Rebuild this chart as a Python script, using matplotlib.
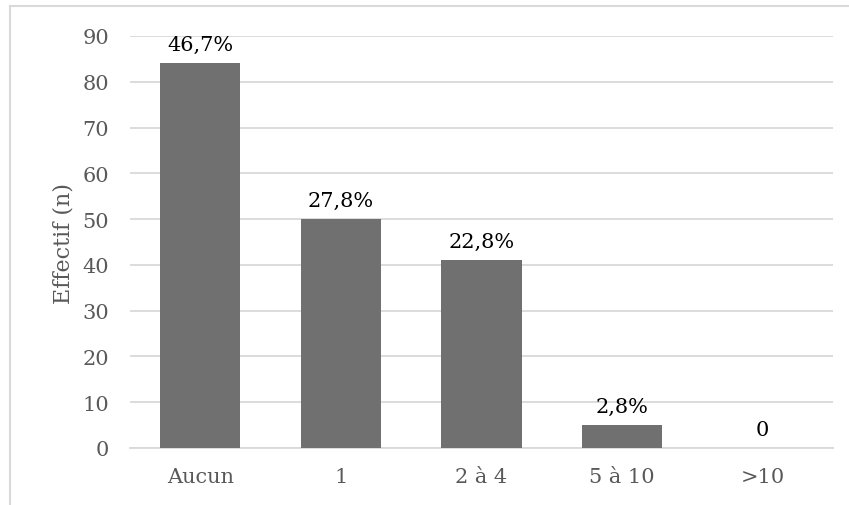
import matplotlib.pyplot as plt
import numpy as np

categories = ['Aucun', '1', '2 à 4', '5 à 10', '>10']
values = [84, 50, 41, 5, 0]
labels = ['46,7%', '27,8%', '22,8%', '2,8%', '0']

plt.rcParams['font.family'] = ['DejaVu Serif']

fig = plt.figure(figsize=(8.49, 5.06), dpi=100)
ax = fig.add_axes([130 / 849, 57 / 506, 703 / 849, 412 / 506])

# outer chart border (only left/top visible in the crop)
fig.add_artist(plt.Line2D([9.5 / 849, 9.5 / 849], [0, 1 - 7 / 506], color='#d9d9d9', lw=1.5))
fig.add_artist(plt.Line2D([9.5 / 849, 1], [1 - 7 / 506, 1 - 7 / 506], color='#d9d9d9', lw=1.5))

x = np.arange(len(categories))
ax.bar(x, values, width=0.57, color='#707070', zorder=3)

for xi, v, lab in zip(x, values, labels):
    ax.text(xi, v + 2, lab, ha='center', va='bottom', fontsize=15, color='black')

ax.set_xlim(-0.5, len(categories) - 0.5)
ax.set_ylim(0, 90)
ax.set_yticks(range(0, 91, 10))
ax.set_xticks(x)
ax.set_xticklabels(categories)
ax.yaxis.grid(True, color='#d9d9d9', lw=1.3, zorder=0)
ax.tick_params(axis='both', length=0, labelsize=15, labelcolor='#595959')
ax.tick_params(axis='x', pad=14)
ax.tick_params(axis='y', pad=15)
for s in ['top', 'right', 'left']:
    ax.spines[s].set_visible(False)
ax.spines['bottom'].set_color('#d9d9d9')
ax.spines['bottom'].set_linewidth(1.3)
ax.set_ylabel('Effectif (n)', fontsize=16, color='#595959', labelpad=6)

fig.savefig('out.png', dpi=100)
